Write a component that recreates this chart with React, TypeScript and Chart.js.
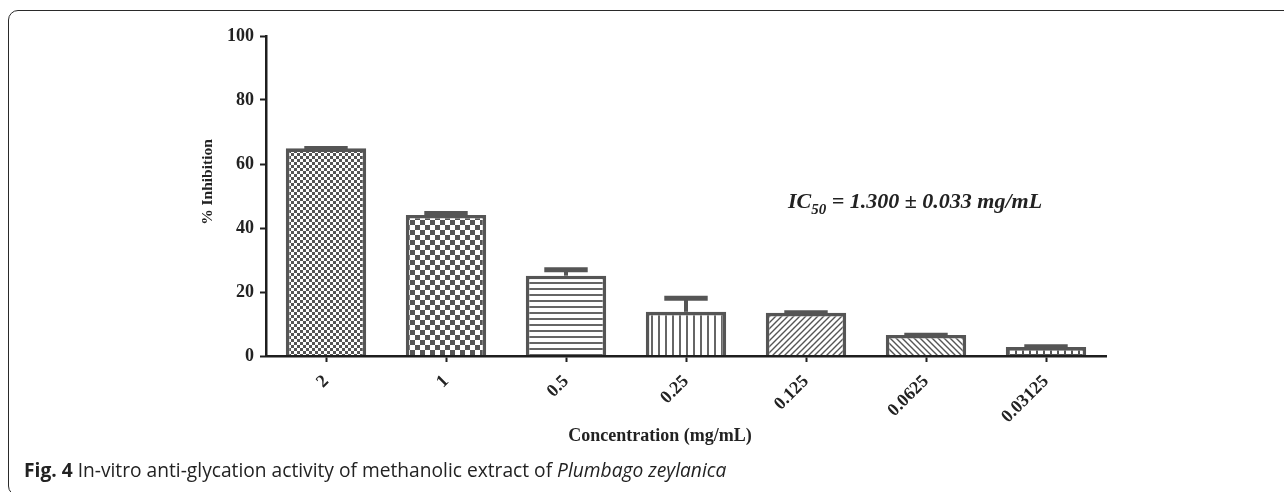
import React, { useEffect, useRef } from "react";
import { Chart, registerables } from "chart.js";

Chart.register(...registerables);

const categories = ["2", "1", "0.5", "0.25", "0.125", "0.0625", "0.03125"];
const inhibition = [64.9, 44.1, 25.1, 13.8, 13.5, 6.6, 2.8];
const errorUpper = [0.7, 1.2, 2.6, 5.0, 0.8, 0.7, 0.9];
const yTicks = [0, 20, 40, 60, 80, 100];
const patternKinds = ["fineCheck", "check", "hlines", "vlines", "diagUp", "diagDown", "grid"];

const xTitle = "Concentration (mg/mL)";
const yTitle = "% Inhibition";
const captionBold = "Fig. 4";
const captionText = " In-vitro anti-glycation activity of methanolic extract of ";
const captionItalic = "Plumbago zeylanica";

const INK = "#555555";
const AXIS = "#1e1e1e";
const SERIF = "'Liberation Serif', 'Times New Roman', serif";

function makePattern(kind: string): CanvasPattern | string {
  const c = document.createElement("canvas");
  let w = 6;
  let h = 6;
  if (kind === "fineCheck") { w = 6; h = 6; }
  if (kind === "check") { w = 10; h = 10; }
  if (kind === "hlines") { w = 6; h = 6; }
  if (kind === "vlines") { w = 7; h = 6; }
  if (kind === "diagUp" || kind === "diagDown") { w = 6; h = 6; }
  if (kind === "grid") { w = 7; h = 6; }
  c.width = w;
  c.height = h;
  const ctx = c.getContext("2d");
  if (!ctx) return "#fff";
  ctx.fillStyle = "#ffffff";
  ctx.fillRect(0, 0, w, h);
  ctx.fillStyle = INK;
  ctx.strokeStyle = INK;
  if (kind === "fineCheck") {
    ctx.fillRect(0, 0, 3, 3);
    ctx.fillRect(3, 3, 3, 3);
  } else if (kind === "check") {
    ctx.fillRect(0, 0, 5, 5);
    ctx.fillRect(5, 5, 5, 5);
  } else if (kind === "hlines") {
    ctx.fillStyle = "#666";
    ctx.fillRect(0, 0, w, 2);
  } else if (kind === "vlines") {
    ctx.fillStyle = "#666";
    ctx.fillRect(0, 0, 2, h);
  } else if (kind === "diagUp") {
    ctx.lineWidth = 1.4;
    ctx.beginPath();
    ctx.moveTo(-1, 1); ctx.lineTo(1, -1);
    ctx.moveTo(0, h); ctx.lineTo(w, 0);
    ctx.moveTo(w - 1, h + 1); ctx.lineTo(w + 1, h - 1);
    ctx.stroke();
  } else if (kind === "diagDown") {
    ctx.lineWidth = 1.4;
    ctx.beginPath();
    ctx.moveTo(-1, h - 1); ctx.lineTo(1, h + 1);
    ctx.moveTo(0, 0); ctx.lineTo(w, h);
    ctx.moveTo(w - 1, -1); ctx.lineTo(w + 1, 1);
    ctx.stroke();
  } else if (kind === "grid") {
    ctx.fillRect(0, 0, 2, h);
    ctx.fillRect(0, 0, w, 1);
  }
  const p = ctx.createPattern(c, "repeat");
  return p || "#fff";
}

const errorBarPlugin = {
  id: "errorBars",
  afterDatasetsDraw(chart: any) {
    const meta = chart.getDatasetMeta(0);
    const yScale = chart.scales.y;
    const ctx = chart.ctx;
    ctx.save();
    ctx.strokeStyle = INK;
    meta.data.forEach((el: any, i: number) => {
      const top = yScale.getPixelForValue(inhibition[i] + errorUpper[i]);
      const half = el.width * 0.27;
      ctx.lineWidth = 4;
      ctx.lineCap = "butt";
      ctx.beginPath();
      ctx.moveTo(el.x, el.y);
      ctx.lineTo(el.x, top + 2.5);
      ctx.stroke();
      ctx.lineWidth = 5;
      ctx.beginPath();
      ctx.moveTo(el.x - half, top + 2.5);
      ctx.lineTo(el.x + half, top + 2.5);
      ctx.stroke();
    });
    ctx.restore();
  },
};

const textPlugin = {
  id: "texts",
  afterDraw(chart: any) {
    const ctx = chart.ctx;
    const area = chart.chartArea;
    ctx.save();
    ctx.fillStyle = "#222";
    // y title
    ctx.save();
    ctx.translate(area.left - 58, area.top + 146);
    ctx.rotate(-Math.PI / 2);
    ctx.font = `bold 15.5px ${SERIF}`;
    ctx.textAlign = "center";
    ctx.textBaseline = "middle";
    ctx.fillText(yTitle, 0, 0);
    ctx.restore();
    // x title
    ctx.font = `bold 18px ${SERIF}`;
    ctx.textAlign = "center";
    ctx.textBaseline = "middle";
    ctx.fillText(xTitle, area.left + 394, area.bottom + 80);
    // IC50 annotation
    ctx.textAlign = "left";
    ctx.textBaseline = "alphabetic";
    let x = area.left + 522;
    const base = area.top + 172;
    ctx.font = `italic bold 22px ${SERIF}`;
    ctx.fillText("IC", x, base);
    x += ctx.measureText("IC").width;
    ctx.font = `italic bold 15px ${SERIF}`;
    ctx.fillText("50", x, base + 6);
    x += ctx.measureText("50").width;
    ctx.font = `italic bold 22px ${SERIF}`;
    ctx.fillText(" = 1.300 \u00b1 0.033 mg/mL", x, base);
    ctx.restore();
  },
};

export default function App() {
  const ref = useRef<HTMLCanvasElement | null>(null);
  useEffect(() => {
    if (!ref.current) return;
    const patterns = patternKinds.map((k) => makePattern(k));
    const chart = new Chart(ref.current, {
      type: "bar",
      data: {
        labels: categories,
        datasets: [
          {
            data: inhibition,
            backgroundColor: patterns as any,
            borderColor: INK,
            borderWidth: 3.6,
            borderSkipped: "start",
            barPercentage: 0.67,
            categoryPercentage: 1,
          },
        ],
      },
      options: {
        responsive: false,
        animation: false,
        devicePixelRatio: 1,
        layout: { padding: { top: 36, right: 178, bottom: 46, left: 0 } },
        plugins: { legend: { display: false }, tooltip: { enabled: false } },
        scales: {
          x: {
            afterFit: (s: any) => { s.height = 90; },
            grid: {
              offset: false,
              drawOnChartArea: false,
              drawTicks: true,
              tickLength: 6,
              tickWidth: 2,
              tickColor: AXIS,
            },
            border: { display: true, color: AXIS, width: 2.5, z: 1 },
            ticks: {
              minRotation: 45,
              maxRotation: 45,
              padding: 9,
              color: "#222",
              font: { family: SERIF, size: 18, weight: "bold" },
            },
          },
          y: {
            min: 0,
            max: 100,
            afterFit: (s: any) => { s.width = 266; },
            afterBuildTicks: (s: any) => { s.ticks = yTicks.map((v) => ({ value: v })); },
            grid: {
              drawOnChartArea: false,
              drawTicks: true,
              tickLength: 6,
              tickWidth: 2,
              tickColor: AXIS,
            },
            border: { display: true, color: AXIS, width: 2.5 },
            ticks: {
              padding: 6,
              color: "#222",
              font: { family: SERIF, size: 18, weight: "bold" },
            },
          },
        },
      },
      plugins: [errorBarPlugin, textPlugin],
    });
    return () => chart.destroy();
  }, []);

  return (
    <div style={{ position: "fixed", left: 0, top: 0, width: 1284, height: 492, overflow: "hidden", background: "#fff" }}>
      <div
        style={{
          position: "absolute",
          left: 8,
          top: 10,
          width: 1400,
          height: 486,
          border: "1.5px solid #2a2a2a",
          borderRadius: 10,
          boxSizing: "border-box",
        }}
      />
      <canvas ref={ref} width={1284} height={492} style={{ position: "absolute", left: 0, top: 0 }} />
      <div
        style={{
          position: "absolute",
          left: 24,
          top: 459,
          fontFamily: "'Open Sans', sans-serif",
          fontSize: 19.2,
          color: "#222",
          whiteSpace: "nowrap",
          lineHeight: "22px",
        }}
      >
        <b>{captionBold}</b>
        {captionText}
        <i>{captionItalic}</i>
      </div>
    </div>
  );
}
